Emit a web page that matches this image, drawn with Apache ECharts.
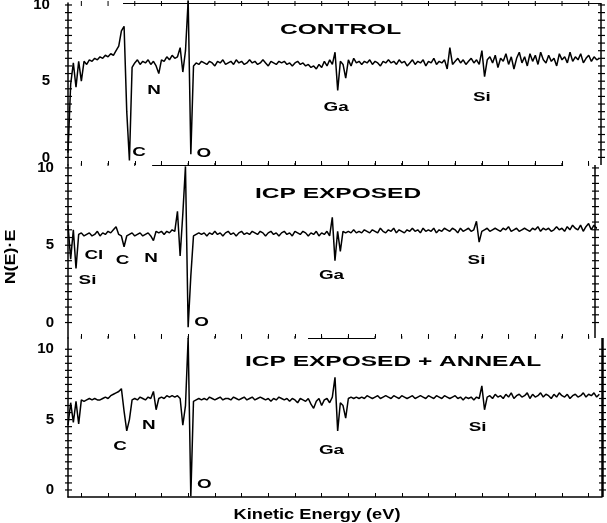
<!DOCTYPE html>
<html><head><meta charset="utf-8">
<script src="https://cdn.jsdelivr.net/npm/echarts@6/dist/echarts.min.js"></script>
<style>html,body{margin:0;padding:0;background:#fff}#c{width:607px;height:523px}</style>
</head><body><div id="c"></div>
<script>
// Spectra sampled on a uniform kinetic-energy grid (eV)
const E_START = 50, E_STEP = 10;

const control = [
  0.3, 4.8, 6.2, 4.6, 6.3, 5.0, 6.3, 6.1, 6.4, 6.3,
  6.5, 6.4, 6.6, 6.5, 6.7, 6.6, 6.8, 6.7, 7.0, 7.3,
  8.3, 8.6, 3.0, -0.2, 5.9, 6.2, 6.4, 6.1, 6.3, 6.2,
  6.4, 6.1, 6.3, 6.0, 5.5, 6.4, 6.3, 6.6, 6.4, 6.7,
  6.5, 6.6, 7.2, 5.6, 7.0, 10.3, 0.2, 6.0, 6.2, 6.1,
  6.3, 6.2, 6.1, 6.3, 6.2, 6.0, 6.3, 6.2, 6.4, 6.1,
  6.2, 6.3, 6.1, 6.4, 6.2, 6.3, 6.1, 6.2, 6.4, 6.2,
  6.3, 6.1, 6.2, 6.4, 6.2, 6.0, 6.3, 6.2, 6.1, 6.3,
  6.2, 6.3, 6.1, 6.2, 6.0, 6.2, 6.3, 6.1, 6.2, 6.0,
  6.1, 5.9, 6.0, 5.8, 6.1, 5.9, 6.3, 6.0, 6.4, 6.1,
  6.9, 4.4, 6.3, 6.1, 5.2, 6.4, 6.0, 6.5, 6.2, 6.3,
  6.1, 6.3, 6.2, 6.4, 6.1, 6.3, 6.2, 6.0, 6.3, 6.2,
  6.4, 6.2, 6.3, 6.1, 6.4, 6.2, 6.3, 6.0, 6.2, 6.4,
  6.1, 6.3, 6.2, 6.4, 6.0, 6.3, 6.2, 6.5, 6.1, 6.3,
  6.2, 6.4, 5.8, 7.2, 6.1, 6.3, 6.5, 6.2, 6.4, 6.1,
  6.3, 6.5, 6.2, 6.4, 6.1, 7.0, 5.3, 6.4, 6.6, 6.2,
  6.7, 5.9, 6.5, 6.3, 6.8, 6.1, 6.6, 5.8, 6.5, 6.9,
  6.2, 6.6, 6.0, 6.8, 6.3, 6.7, 6.1, 6.9, 6.4, 6.2,
  6.7, 6.3, 6.5, 6.0, 6.8, 6.4, 6.6, 6.2, 6.9, 6.3,
  6.6, 6.4, 6.8, 6.2, 6.5, 6.7, 6.3, 6.6, 6.4, 6.5
];

const icpExposed = [
  6.3, 4.1, 6.0, 3.5, 5.7, 5.8, 5.6, 5.7, 5.8, 5.6,
  5.7, 5.9, 5.6, 5.8, 5.7, 5.9, 5.8, 6.0, 6.2, 5.7,
  5.6, 4.9, 5.6, 5.7, 5.8, 5.6, 5.7, 5.8, 5.6, 5.7,
  5.8, 5.6, 5.3, 5.9, 5.8, 5.9, 5.7, 5.9, 5.8, 6.0,
  5.9, 7.2, 4.3, 7.0, 10.1, -0.3, 3.0, 5.6, 5.7, 5.8,
  5.7, 5.8, 5.6, 5.8, 5.7, 5.9, 5.7, 5.8, 5.6, 5.8,
  5.9, 5.7, 5.8, 5.6, 5.8, 5.9, 5.7, 5.8, 5.7, 5.9,
  5.8, 5.7, 5.9, 5.8, 5.6, 5.8, 5.9, 5.7, 5.8, 5.6,
  5.8, 5.9, 5.7, 5.8, 5.6, 5.9, 5.8, 5.7, 5.9, 5.8,
  5.6, 5.8, 5.7, 5.9, 5.6, 5.8, 5.7, 5.9, 5.6, 6.8,
  4.0, 5.9, 4.6, 5.9, 5.8, 5.9, 5.8, 6.0, 5.8, 5.9,
  5.8, 6.0, 5.9, 5.8, 6.0, 5.9, 5.8, 6.1, 5.9, 5.8,
  6.0, 5.9, 6.1, 5.8, 6.0, 5.9, 5.8, 6.0, 5.9, 6.1,
  5.9, 6.0, 5.8, 6.1, 5.9, 6.0, 5.9, 6.1, 5.8, 6.0,
  5.9, 6.1, 6.0, 5.9, 6.1, 6.0, 5.8, 6.1, 5.9, 6.0,
  6.1, 5.9, 6.0, 6.55, 5.2, 5.9, 6.0, 6.1, 5.9, 6.0,
  6.1, 6.0, 5.9, 6.1, 6.0, 6.2, 5.9, 6.0, 6.1, 5.9,
  6.0, 6.1, 6.0, 5.9, 6.1, 6.0, 6.2, 5.9, 6.1, 6.0,
  6.1, 5.9, 6.0, 6.2, 6.0, 6.1, 5.9, 6.2, 6.0, 6.3,
  6.1, 6.0, 6.3, 5.9, 6.2, 6.4, 6.0, 6.3, 6.1, 6.2
];

const icpAnneal = [
  4.6, 6.2, 4.8, 6.3, 4.7, 6.4, 6.3, 6.4, 6.5, 6.4,
  6.5, 6.4, 6.4, 6.5, 6.6, 6.5, 6.7, 6.8, 6.9, 7.0,
  7.2, 5.6, 4.2, 5.0, 6.4, 6.5, 6.4, 6.6, 6.5, 6.4,
  6.6, 6.5, 7.0, 5.7, 6.5, 6.6, 6.5, 6.7, 6.6, 6.7,
  6.6, 6.7, 6.5, 4.6, 6.0, 10.8, -0.45, 6.3, 6.4, 6.5,
  6.4, 6.5, 6.4, 6.6, 6.5, 6.4, 6.5, 6.6, 6.4, 6.5,
  6.5, 6.4, 6.6, 6.5, 6.4, 6.5, 6.6, 6.4, 6.5, 6.6,
  6.4, 6.5, 6.6, 6.5, 6.4, 6.5, 6.3, 6.5, 6.4, 6.6,
  6.5, 6.4, 6.5, 6.3, 6.5, 6.4, 6.2, 6.5, 6.4, 6.3,
  6.5, 6.1, 5.8, 6.3, 6.5, 6.0, 6.4, 6.5, 6.2, 6.6,
  8.0, 4.2, 6.2, 6.0, 5.1, 6.5, 6.6, 6.5, 6.6, 6.5,
  6.6, 6.5, 6.7, 6.6, 6.5, 6.6, 6.7, 6.5, 6.6, 6.7,
  6.6, 6.5, 6.7, 6.6, 6.5, 6.7, 6.6, 6.5, 6.6, 6.7,
  6.5, 6.6, 6.7, 6.6, 6.5, 6.7, 6.6, 6.5, 6.7, 6.6,
  6.5, 6.7, 6.6, 6.5, 6.6, 6.7, 6.5, 6.6, 6.4, 6.6,
  6.5, 6.6, 6.4, 6.6, 6.5, 7.4, 5.7, 6.6, 6.7, 6.5,
  6.8, 6.6, 6.7, 6.5, 6.8, 6.6, 6.9, 6.5, 6.7, 6.8,
  6.6, 6.7, 6.9, 6.5, 6.8, 6.6, 6.7, 6.9, 6.6, 6.8,
  6.7, 6.5, 6.8, 6.6, 6.9, 6.7, 6.6, 6.8, 6.5, 6.7,
  6.8, 6.6, 6.7, 6.9, 6.6, 6.8, 6.7, 6.9, 6.6, 6.8
];

const panelTitles = ['CONTROL', 'ICP EXPOSED', 'ICP EXPOSED + ANNEAL'];

// peak labels: [text, energy (eV), N(E)·E position]
const peaksControl = [['C', 316, 0.33], ['N', 372, 4.4], ['O', 559, 0.26], ['Ga', 1054, 3.3], ['Si', 1600, 3.95]];
const peaksExposed = [['Cl', 147, 4.37], ['Si', 123, 2.75], ['C', 254, 4.05], ['N', 361, 4.17], ['O', 550, 0.03], ['Ga', 1037, 3.07], ['Si', 1580, 4.05]];
const peaksAnneal = [['C', 245, 3.13], ['N', 353, 4.62], ['O', 561, 0.36], ['Ga', 1037, 2.84], ['Si', 1584, 4.41]];

const xTicks = [100, 200, 300, 400, 500, 600, 700, 800, 900, 1000, 1100, 1200, 1300, 1400, 1500, 1600, 1700, 1800, 1900, 2000];
const yTicks = [0, 0.5, 1, 1.5, 2, 2.5, 3, 3.5, 4, 4.5, 5, 5.5, 6, 6.5, 7, 7.5, 8, 8.5, 9, 9.5, 10];
const yLabels = [0, 5, 10];
const xAxisName = 'Kinetic Energy (eV)';
const yAxisName = 'N(E)·E';

const spectra = [control, icpExposed, icpAnneal];
const peaks = [peaksControl, peaksExposed, peaksAnneal];

// layout
const grids = [
  { left: 68, top: 3, width: 533, height: 162 },
  { left: 68, top: 165, width: 527, height: 173 },
  { left: 68, top: 338, width: 534, height: 159 }
];
const xRanges = [[50, 2046], [50, 2024], [50, 2050]];
const yRanges = [[-0.5, 10.13], [-1, 10.19], [-0.5, 10.8]];
const labelMargins = [18, 14, 14];
const rightAxisWidths = [1.5, 1.5, 2.5];

const FONT = 'Liberation Sans, Arial, Helvetica, sans-serif';
const black = '#000';

const xAxes = [], yAxes = [], series = [];
for (let k = 0; k < 3; k++) {
  const [xmin, xmax] = xRanges[k];
  const [ymin, ymax] = yRanges[k];

  xAxes.push({
    gridIndex: k, type: 'value', min: xmin, max: xmax, position: 'bottom',
    axisLabel: { show: false }, splitLine: { show: false },
    axisTick: { show: true, inside: true, length: 4, customValues: xTicks, lineStyle: { color: black, width: 1 } },
    axisLine: { show: k === 2, onZero: false, lineStyle: { color: black, width: 1.5 } }
  });
  yAxes.push({
    gridIndex: k, type: 'value', min: ymin, max: ymax, position: 'left',
    splitLine: { show: false },
    axisLine: { show: true, onZero: false, lineStyle: { color: black, width: 1.5 } },
    axisTick: { show: false },
    axisLabel: { show: false }
  });

  // long frame segments (right border, partial top/bottom borders)
  const segs = [];
  segs.push([{ coord: [xmax, ymin], lineStyle: { color: black, width: rightAxisWidths[k], type: 'solid' } }, { coord: [xmax, ymax] }]);
  if (k === 0) {
    segs.push([{ coord: [256, ymax] }, { coord: [xmax, ymax] }]);
    segs.push([{ coord: [365, ymin] }, { coord: [1904, ymin] }]);
  }
  if (k === 1) {
    segs.push([{ coord: [949, ymin] }, { coord: [1200, ymin] }]);
  }

  series.push({
    type: 'line', xAxisIndex: k, yAxisIndex: k,
    data: spectra[k].map((v, i) => [E_START + i * E_STEP, v]),
    showSymbol: false, symbol: 'none', clip: false, animation: false,
    lineStyle: { color: black, width: 1.5 }, silent: true,
    markLine: {
      silent: true, symbol: 'none', animation: false,
      label: { show: false },
      lineStyle: { color: black, width: 1.2, type: 'solid' },
      emphasis: { disabled: true },
      data: segs
    }
  });

  // crossing tick marks on left/right borders and top border, placed through the panel's scales
  const tickItems = [];
  yTicks.forEach(v => { tickItems.push([xmin, v, 0]); tickItems.push([xmax, v, 1]); });
  xTicks.forEach(x => tickItems.push([x, ymax, 2]));
  series.push({
    type: 'custom', xAxisIndex: k, yAxisIndex: k, silent: true, clip: false, animation: false, z: 5,
    data: tickItems,
    renderItem: (params, api) => {
      const p = api.coord([api.value(0), api.value(1)]);
      const kind = api.value(2);
      if (kind === 2) {
        return { type: 'rect', shape: { x: p[0] - 0.5, y: p[1] - 2, width: 1, height: k === 0 ? 5 : 3 }, style: { fill: black } };
      }
      return { type: 'rect', shape: { x: p[0] - 3, y: p[1] - 0.6, width: 7, height: 1.2 }, style: { fill: black } };
    }
  });

  // y tick labels (centre-anchored just left of the axis)
  const margin = labelMargins[k];
  series.push({
    type: 'custom', xAxisIndex: k, yAxisIndex: k, silent: true, clip: false, animation: false, z: 10,
    data: yLabels.map(v => [xmin, v]),
    renderItem: (params, api) => {
      const p = api.coord([api.value(0), api.value(1)]);
      const txt = String(yLabels[params.dataIndex]);
      const halfW = 4.2 * txt.length;
      return {
        type: 'text', x: p[0] - margin - halfW, y: p[1],
        style: { text: txt, font: 'bold 15px ' + FONT, fill: black, align: 'center', verticalAlign: 'middle' }
      };
    }
  });

  // peak labels
  const pk = peaks[k];
  series.push({
    type: 'custom', xAxisIndex: k, yAxisIndex: k, silent: true, clip: false, animation: false, z: 10,
    data: pk.map(p => [p[1], p[2]]),
    renderItem: (params, api) => {
      const pt = api.coord([api.value(0), api.value(1)]);
      return {
        type: 'text', x: pt[0], y: pt[1], scaleX: 1.45,
        style: { text: pk[params.dataIndex][0], font: 'bold 13px ' + FONT, fill: black, align: 'center', verticalAlign: 'middle' }
      };
    }
  });
}

const titlePos = [[280, 30], [255, 194], [245, 362]];
const els = panelTitles.map((t, k) => ({
  type: 'text', x: titlePos[k][0], y: titlePos[k][1], scaleX: 1.75, silent: true,
  style: { text: t, font: 'bold 14px ' + FONT, fill: black, textAlign: 'left', textVerticalAlign: 'middle' }
}));
els.push({
  type: 'text', x: 317, y: 515, scaleX: 1.3, silent: true,
  style: { text: xAxisName, font: 'bold 14px ' + FONT, fill: black, textAlign: 'center', textVerticalAlign: 'middle' }
});
els.push({
  type: 'text', x: 11, y: 257, rotation: Math.PI / 2, scaleX: 1.28, silent: true,
  style: { text: yAxisName, font: 'bold 14px ' + FONT, fill: black, textAlign: 'center', textVerticalAlign: 'middle' }
});

const chart = echarts.init(document.getElementById('c'), null, { renderer: 'canvas' });
chart.setOption({
  backgroundColor: '#fff',
  animation: false,
  grid: grids,
  xAxis: xAxes,
  yAxis: yAxes,
  graphic: { elements: els },
  series
});
</script>
</body></html>
